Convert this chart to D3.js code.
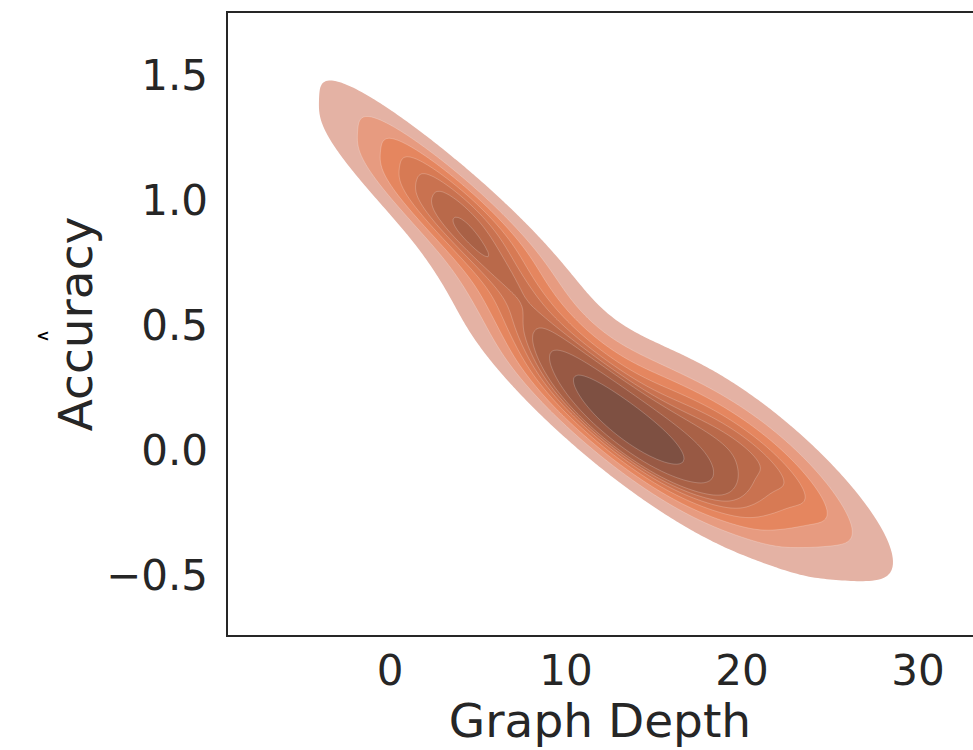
<!DOCTYPE html>
<html>
<head>
<meta charset="utf-8">
<script src="https://cdn.jsdelivr.net/npm/d3@7"></script>
<style>
  body { margin: 0; background: #fff; }
  text { font-family: "DejaVu Sans", sans-serif; fill: #262626; }
</style>
</head>
<body>
<script>

var depth = [0, 0, 1, 1, 2, 2, 3, 3, 3, 4, 4, 5, 5, 5, 6, 6, 7, 7,
             6, 6, 7, 8, 8, 8, 9, 9, 10,
             10, 10, 11, 11, 11, 12, 12, 12, 12, 12, 13, 13, 13, 13, 14, 14, 14, 14, 15, 15, 15, 15, 16, 16, 16, 17, 17, 17, 11,
             15, 16, 17, 18, 18, 18, 19, 19, 19, 19, 20, 20, 20, 21, 21, 21, 22, 22, 23, 23, 24, 24, 25]
var accuracy = [1.25, 1.1, 1.18, 1.03, 1.12, 0.97, 1.06, 0.94, 0.86, 1.02, 0.84, 0.96, 0.9, 0.8, 0.9, 0.8, 0.82, 0.7,
             0.7, 0.6, 0.52, 0.62, 0.45, 0.3, 0.52, 0.36, 0.42,
             0.28, 0.2, 0.3, 0.22, 0.14, 0.36, 0.26, 0.19, 0.13, 0.06, 0.22, 0.15, 0.09, 0.02, 0.17, 0.1, 0.04, -0.03, 0.13, 0.05, -0.02, -0.08, 0.08, 0.0, -0.08, 0.05, -0.04, -0.12, 0.08,
             0.24, 0.22, 0.15, 0.12, 0.0, -0.12, 0.16, 0.06, -0.06, -0.18, 0.05, -0.1, -0.22, 0.1, -0.02, -0.16, -0.08, -0.25, 0.02, -0.15, -0.28, -0.2, -0.17]

var xTicks = [0, 10, 20, 30]
var yTicks = [-0.5, 0, 0.5, 1.0, 1.5]
var isoProps = [0.05, 0.155, 0.261, 0.367, 0.472, 0.578, 0.683, 0.789, 0.894, 1]
var bandColors = ['#e4b2a4', '#e79b80', '#e5865f', '#d77a54', '#c97250', '#b9694a', '#a96146', '#985944', '#7e5042']

var margin = {top: 12, left: 227},
    width = 760, height = 624

var svg = d3.select('body').append('svg').attr('width', 973).attr('height', 750)

var x = d3.scaleLinear().domain([0, 10]).range([390, 566])
var y = d3.scaleLinear().domain([0, 0.5]).range([450, 325])

var pts = depth.map(function(d, i) { return [d, accuracy[i]] })

// gaussian kde, scott bandwidth, full covariance (like scipy)
var n = pts.length
var mx = d3.mean(pts, function(d) { return d[0] }),
    my = d3.mean(pts, function(d) { return d[1] })
var sxx = d3.sum(pts, function(d) { return (d[0] - mx) * (d[0] - mx) }) / (n - 1),
    syy = d3.sum(pts, function(d) { return (d[1] - my) * (d[1] - my) }) / (n - 1),
    sxy = d3.sum(pts, function(d) { return (d[0] - mx) * (d[1] - my) }) / (n - 1)
var f2 = Math.pow(n, -1 / 3)
var a = sxx * f2, b = sxy * f2, c = syy * f2
var det = a * c - b * b
var ia = c / det, ib = -b / det, ic = a / det
var norm = 1 / (n * 2 * Math.PI * Math.sqrt(det))

function kde(px, py) {
  var s = 0
  for (var k = 0; k < n; k++) {
    var dx = px - pts[k][0], dy = py - pts[k][1]
    s += Math.exp(-0.5 * (ia * dx * dx + 2 * ib * dx * dy + ic * dy * dy))
  }
  return s * norm
}

// grid in pixel space over the plot area
var step = 3
var nx = Math.ceil(width / step) + 1, ny = Math.ceil(height / step) + 1
var grid = new Array(nx * ny)
for (var j = 0; j < ny; j++) {
  for (var i = 0; i < nx; i++) {
    grid[i + j * nx] = kde(x.invert(margin.left + i * step), y.invert(margin.top + j * step))
  }
}

// iso-proportion levels
var sorted = grid.slice().sort(function(p, q) { return q - p })
var total = d3.sum(sorted)
var cum = [], run = 0
sorted.forEach(function(v) { run += v; cum.push(run / total) })
var levels = isoProps.map(function(p) {
  var idx = d3.bisectLeft(cum, 1 - p)
  return sorted[Math.min(idx, sorted.length - 1)]
})

var contours = d3.contours().size([nx, ny]).thresholds(levels.slice(0, 9))(grid)

var path = d3.geoPath(d3.geoTransform({
  point: function(cx, cy) {
    this.stream.point(margin.left + (cx - 0.5) * step, margin.top + (cy - 0.5) * step)
  }
}))

svg.append('clipPath').attr('id', 'clip').append('rect')
  .attr('x', margin.left).attr('y', margin.top).attr('width', width).attr('height', height)

svg.append('g').attr('clip-path', 'url(#clip)')
  .selectAll('path').data(contours).enter().append('path')
  .attr('d', path)
  .attr('fill', function(d, i) { return bandColors[i] })
  .attr('stroke', function(d, i) { return i == 0 ? 'none' : '#fff' })
  .attr('stroke-opacity', 0.3)
  .attr('stroke-width', 0.7)

// frame (right side runs off the page)
svg.append('rect')
  .attr('x', margin.left).attr('y', margin.top).attr('width', width).attr('height', height)
  .attr('fill', 'none').attr('stroke', '#262626').attr('stroke-width', 2)

// tick labels
svg.append('g').selectAll('text').data(xTicks).enter().append('text')
  .attr('x', function(d) { return x(d) }).attr('y', 685)
  .attr('text-anchor', 'middle').attr('font-size', 42)
  .text(function(d) { return d })

svg.append('g').selectAll('text').data(yTicks).enter().append('text')
  .attr('x', 208).attr('y', function(d) { return y(d) + 15 })
  .attr('text-anchor', 'end').attr('font-size', 42)
  .text(function(d) { return d3.format('.1f')(d).replace('-', '\u2212') })

// axis labels
svg.append('text').attr('x', 600).attr('y', 737)
  .attr('text-anchor', 'middle').attr('font-size', 47).text('Graph Depth')

svg.append('text').attr('transform', 'translate(92,' + (margin.top + 312) + ') rotate(-90)')
  .attr('text-anchor', 'middle').attr('font-size', 47).text('Accuracy')

// stray hat mark left of the label
svg.append('text').attr('x', 43).attr('y', 341)
  .attr('text-anchor', 'middle').attr('font-size', 16).attr('font-weight', 'bold')
  .style('fill', '#000').text('<')

</script>
</body>
</html>
